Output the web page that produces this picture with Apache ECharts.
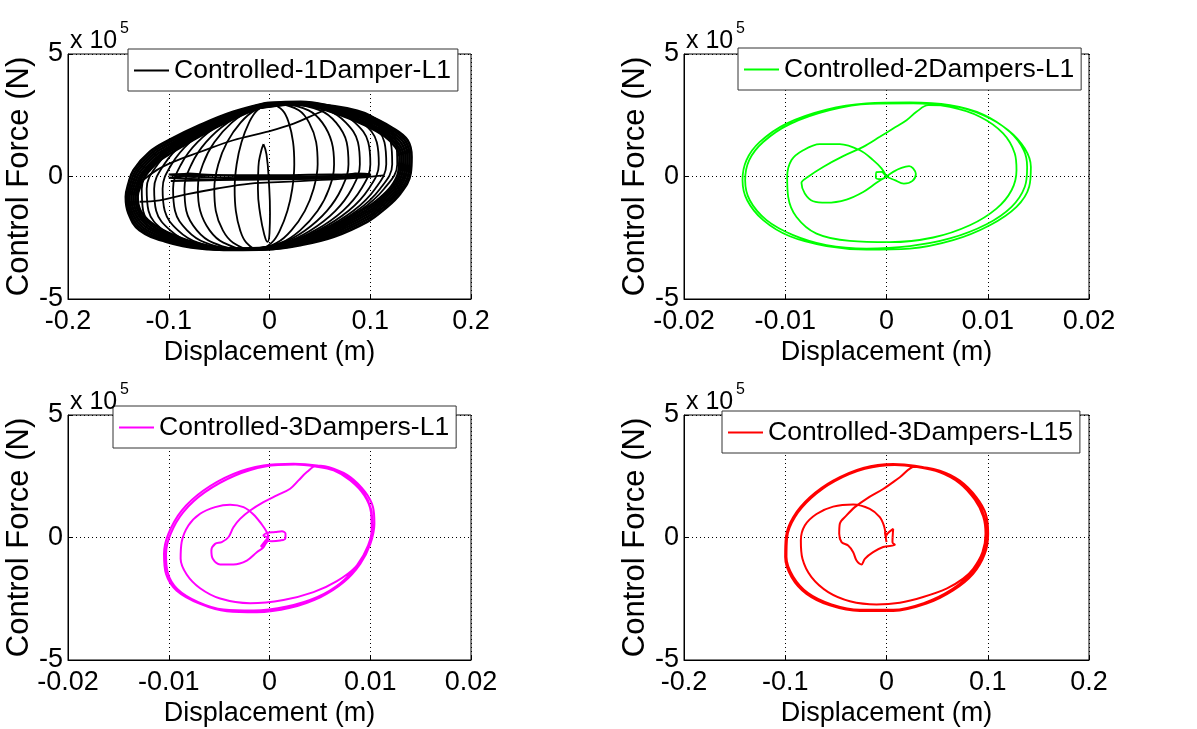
<!DOCTYPE html>
<html>
<head>
<meta charset="utf-8">
<script src="https://cdn.jsdelivr.net/npm/echarts@6/dist/echarts.min.js"></script>
<style>
  html, body { margin: 0; padding: 0; background: #fff; }
  #chart { width: 1197px; height: 729px; }
</style>
</head>
<body>
<div id="chart"></div>
<script>
// Control force (in units of 1e5 N) against displacement (m) for four damper layouts.

const seriesNames = [
  'Controlled-1Damper-L1',
  'Controlled-2Dampers-L1',
  'Controlled-3Dampers-L1',
  'Controlled-3Dampers-L15'
];

// Tick values and their labels
const xTicksWide = [-0.2, -0.1, 0, 0.1, 0.2];
const xLabelsWide = ['-0.2', '-0.1', '0', '0.1', '0.2'];
const xTicksNarrow = [-0.02, -0.01, 0, 0.01, 0.02];
const xLabelsNarrow = ['-0.02', '-0.01', '0', '0.01', '0.02'];
const yTicks = [-5, 0, 5];
const yLabels = ['-5', '0', '5'];

// One damper: narrow first cycle
const damper1Narrow = [[-0.006,1.32],[-0.003,0.9],[-0.0005,-0.3],[0.0005,-1.5],[0.0,-2.3],[-0.002,-2.67],[-0.005,-2.4],[-0.009,-1.6],[-0.0115,-0.5],[-0.011,0.4],[-0.0085,1.0],[-0.006,1.32]];

// One damper: growing cycles, displacement of the rising (right) and falling (left)
// branch at each force level
const loopLevels = [3, 2.7, 2.2, 1.4, 0.5, -0.5, -1.4, -2.2, -2.7, -3];
const damper1LoopRight = [
  [0.001,0.013,0.0191,0.0234,0.0246,0.0226,0.0178,0.0103,0.0022,-0.011],
  [0.0085,0.0291,0.0393,0.0463,0.0478,0.0438,0.0351,0.0217,0.0075,-0.0155],
  [0.0115,0.0388,0.0524,0.0618,0.0641,0.0591,0.0478,0.0304,0.0118,-0.0185],
  [0.018,0.0503,0.0661,0.0766,0.0784,0.0714,0.057,0.0353,0.0125,-0.024],
  [0.021,0.0578,0.0758,0.0878,0.0897,0.0817,0.0654,0.0406,0.0146,-0.027],
  [0.024,0.0649,0.0848,0.098,0.1001,0.0911,0.0728,0.0452,0.0163,-0.03],
  [0.027,0.0711,0.0924,0.1065,0.1085,0.0985,0.0785,0.0484,0.0171,-0.033],
  [0.03,0.0768,0.0994,0.1141,0.1159,0.1049,0.0833,0.051,0.0174,-0.036],
  [0.0335,0.0822,0.1055,0.1204,0.1218,0.1098,0.0868,0.0527,0.0174,-0.0385],
  [0.037,0.0872,0.1109,0.1258,0.1268,0.1138,0.0894,0.0537,0.017,-0.041]
];
const damper1LoopLeft = [
  [0.001,-0.0122,-0.0203,-0.0278,-0.0326,-0.0346,-0.0334,-0.0291,-0.023,-0.011],
  [0.0085,-0.0145,-0.0287,-0.0421,-0.0508,-0.0548,-0.0533,-0.0463,-0.0361,-0.0155],
  [0.0115,-0.0188,-0.0374,-0.0548,-0.0661,-0.0711,-0.0688,-0.0594,-0.0458,-0.0185],
  [0.018,-0.0185,-0.0413,-0.063,-0.0774,-0.0844,-0.0826,-0.0721,-0.0563,-0.024],
  [0.021,-0.0206,-0.0466,-0.0714,-0.0877,-0.0957,-0.0938,-0.0818,-0.0638,-0.027],
  [0.024,-0.0223,-0.0512,-0.0788,-0.0971,-0.1061,-0.104,-0.0908,-0.0709,-0.03],
  [0.027,-0.0231,-0.0544,-0.0845,-0.1045,-0.1145,-0.1125,-0.0984,-0.0771,-0.033],
  [0.03,-0.0234,-0.057,-0.0893,-0.1109,-0.1219,-0.1201,-0.1054,-0.0828,-0.036],
  [0.0335,-0.0224,-0.0577,-0.0918,-0.1148,-0.1268,-0.1254,-0.1105,-0.0872,-0.0385],
  [0.037,-0.0211,-0.0577,-0.0934,-0.1178,-0.1308,-0.1298,-0.1149,-0.0911,-0.041]
];

// One damper: steady-state cycles (dense outer band), innermost to outermost
const damper1Band = [
  [[-0.003,2.94],[0.031,2.92],[0.064,2.6],[0.097,2.05],[0.114,1.65],[0.125,1.2],[0.129,0.8],[0.128,0.2],[0.121,-0.4],[0.106,-1.0],[0.097,-1.25],[0.064,-2.0],[0.031,-2.55],[-0.003,-2.9],[-0.036,-2.94],[-0.069,-2.76],[-0.096,-2.38],[-0.117,-1.9],[-0.128,-1.4],[-0.131,-0.83],[-0.128,-0.38],[-0.123,0.05],[-0.11,0.62],[-0.1,0.9],[-0.069,1.65],[-0.036,2.35],[-0.003,2.94]],
  [[-0.003,2.95],[0.031,2.94],[0.064,2.64],[0.097,2.125],[0.1155,1.7],[0.127,1.25],[0.131,0.8],[0.13,0.19],[0.1225,-0.45],[0.107,-1.06],[0.097,-1.35],[0.064,-2.075],[0.031,-2.595],[-0.003,-2.92],[-0.036,-2.95],[-0.069,-2.79],[-0.097,-2.43],[-0.119,-1.95],[-0.13,-1.425],[-0.133,-0.83],[-0.13,-0.365],[-0.125,0.085],[-0.1115,0.685],[-0.1,1.0],[-0.069,1.725],[-0.036,2.4],[-0.003,2.95]],
  [[-0.003,2.96],[0.031,2.96],[0.064,2.68],[0.097,2.2],[0.117,1.75],[0.129,1.3],[0.133,0.8],[0.132,0.18],[0.124,-0.5],[0.108,-1.12],[0.097,-1.45],[0.064,-2.15],[0.031,-2.64],[-0.003,-2.94],[-0.036,-2.96],[-0.069,-2.82],[-0.098,-2.48],[-0.121,-2.0],[-0.132,-1.45],[-0.135,-0.83],[-0.132,-0.35],[-0.127,0.12],[-0.113,0.75],[-0.1,1.1],[-0.069,1.8],[-0.036,2.45],[-0.003,2.96]],
  [[-0.003,2.97],[0.031,2.98],[0.064,2.72],[0.097,2.28],[0.1185,1.8],[0.131,1.35],[0.135,0.8],[0.134,0.165],[0.1255,-0.55],[0.109,-1.185],[0.097,-1.55],[0.064,-2.225],[0.031,-2.68],[-0.003,-2.95],[-0.036,-2.97],[-0.069,-2.85],[-0.099,-2.53],[-0.123,-2.05],[-0.134,-1.475],[-0.137,-0.83],[-0.134,-0.335],[-0.129,0.16],[-0.1145,0.815],[-0.1,1.2],[-0.069,1.875],[-0.036,2.5],[-0.003,2.97]],
  [[-0.003,2.98],[0.031,3.0],[0.064,2.76],[0.097,2.36],[0.12,1.85],[0.133,1.4],[0.137,0.8],[0.136,0.15],[0.127,-0.6],[0.11,-1.25],[0.097,-1.65],[0.064,-2.3],[0.031,-2.72],[-0.003,-2.96],[-0.036,-2.98],[-0.069,-2.88],[-0.1,-2.58],[-0.125,-2.1],[-0.136,-1.5],[-0.139,-0.83],[-0.136,-0.32],[-0.131,0.2],[-0.116,0.88],[-0.1,1.3],[-0.069,1.95],[-0.036,2.55],[-0.003,2.98]],
  [[-0.003,2.99],[0.031,3.025],[0.064,2.8],[0.097,2.43],[0.1215,1.905],[0.135,1.44],[0.139,0.8],[0.138,0.135],[0.1285,-0.645],[0.1115,-1.31],[0.097,-1.75],[0.064,-2.38],[0.031,-2.76],[-0.003,-2.97],[-0.036,-2.99],[-0.069,-2.91],[-0.101,-2.625],[-0.127,-2.145],[-0.138,-1.5],[-0.1408,-0.83],[-0.138,-0.305],[-0.133,0.23],[-0.1175,0.94],[-0.1,1.39],[-0.069,2.025],[-0.036,2.595],[-0.003,2.99]],
  [[-0.003,3.0],[0.031,3.05],[0.064,2.84],[0.097,2.5],[0.123,1.96],[0.137,1.48],[0.141,0.8],[0.14,0.12],[0.13,-0.69],[0.113,-1.37],[0.097,-1.85],[0.064,-2.46],[0.031,-2.8],[-0.003,-2.98],[-0.036,-3.0],[-0.069,-2.94],[-0.102,-2.67],[-0.129,-2.19],[-0.14,-1.5],[-0.1426,-0.83],[-0.14,-0.29],[-0.135,0.26],[-0.119,1.0],[-0.1,1.48],[-0.069,2.1],[-0.036,2.64],[-0.003,3.0]]
];

// One damper: near-zero force sweeps and transition branches
const damper1Flat = [
  [[-0.1,0.08],[-0.08,0.1],[-0.05,0.05],[0,-0.02],[0.05,0.0],[0.08,0.08],[0.1,0.1],[0.09,0.02],[0.05,-0.08],[0,-0.1],[-0.05,-0.05],[-0.085,0.02],[-0.1,0.08]],
  [[-0.1,-0.05],[-0.06,0.05],[0,0.05],[0.06,0.08],[0.1,0.05],[0.07,-0.02],[0,-0.1],[-0.06,-0.12],[-0.1,-0.05]],
  [[-0.098,-0.18],[-0.06,-0.15],[-0.02,-0.12],[0.02,-0.1],[0.06,-0.05],[0.1,0.05]],
  [[-0.09,0.05],[-0.08,0.12],[-0.07,0.08],[-0.075,-0.02],[-0.09,0.05]],
  [[0.075,0.02],[0.085,0.12],[0.1,0.08],[0.095,0.0],[0.075,0.02]],
  [[-0.035,-0.04],[0.0,-0.03],[0.03,-0.01],[0.06,0.01]]
];
const damper1Transition = [
  [[-0.13,-0.3],[-0.112,0.26],[-0.0955,0.6],[-0.069,1.0],[-0.036,1.48],[-0.003,1.82],[0.024,2.16],[0.047,2.57],[0.064,2.87]],
  [[-0.129,-1.03],[-0.109,-0.97],[-0.086,-0.76],[-0.052,-0.49],[-0.019,-0.29],[0.014,-0.22],[0.047,-0.15],[0.08,-0.08],[0.113,0.05]]
];

// Two dampers, L1
const damper2Path = [
  [0,0],[0.00066,0.19],[0.00148,0.35],[0.00224,0.42],[0.00263,0.33],[0.0029,0.10],[0.00257,-0.18],[0.00171,-0.29],[0.00082,-0.15],[0,0],
  [-0.00049,0.19],[-0.00099,0.18],[-0.00105,-0.05],[-0.00049,-0.11],[0,0],
  [-0.00099,-0.26],[-0.0023,-0.63],[-0.00395,-0.94],[-0.00593,-1.07],[-0.00724,-1.01],[-0.00807,-0.69],[-0.0084,-0.26],
  [-0.00774,-0.01],[-0.00626,0.39],[-0.00428,0.83],[-0.0023,1.21],[-0.00066,1.62],[0.00066,1.96],[0.00198,2.30],[0.00296,2.64],[0.00412,2.91],
  [0.00658,2.87],[0.00955,2.50],[0.01202,1.89],[0.01366,1.14],[0.01426,0.39],[0.01409,-0.42],[0.01284,-1.24],[0.01021,-1.99],[0.00658,-2.60],[0.0023,-2.94],[-0.00198,-2.98],[-0.00593,-2.84],[-0.00955,-2.44],[-0.01218,-1.78],[-0.01376,-0.97],[-0.01422,-0.15],[-0.01383,0.67],[-0.01251,1.41],[-0.00988,2.16],[-0.00593,2.73],[-0.00198,2.98],[0.0023,3.02],
  [0.00626,2.91],[0.00955,2.53],[0.01218,1.82],[0.01356,1.07],[0.01389,0.39],[0.01366,-0.42],[0.01235,-1.24],[0.00988,-1.95],[0.00626,-2.53],[0.0023,-2.84],[-0.00198,-2.94],[-0.00593,-2.80],[-0.00922,-2.39],[-0.01185,-1.78],[-0.0135,-0.97],[-0.01396,-0.15],[-0.01356,0.67],[-0.01218,1.41],[-0.00955,2.14],[-0.0056,2.71],[-0.00165,2.97],[0.00263,2.99],
  [0.00626,2.84],[0.00922,2.44],[0.01152,1.76],[0.01267,0.94],[0.01284,0.26],[0.01235,-0.56],[0.01086,-1.31],[0.00823,-1.99],[0.00461,-2.49],[0.00033,-2.68],[-0.00362,-2.63],[-0.00691,-2.33],[-0.00889,-1.65],[-0.00971,-0.83],[-0.00981,-0.01],[-0.00938,0.67],[-0.00823,1.07],[-0.00658,1.32],[-0.00461,1.32],[-0.00263,1.07],[-0.00132,0.67],[-0.00049,0.33],[0,0]
];

// Three dampers, L1
const damper3Path = [
  [-0.0001,0.01],[-0.0006,0.08],[-0.00027,0.18],[0.00056,0.22],[0.00123,0.26],[0.00159,0.15],[0.00156,-0.05],[0.00106,-0.12],[0.00023,-0.15],[-0.00027,-0.10],[-0.0001,0.01],
  [-0.00027,-0.19],[-0.0006,-0.33],[-0.00086,-0.37],[-0.0006,-0.23],[-0.0001,0.01],
  [-0.0006,-0.40],[-0.00126,-0.60],[-0.00225,-0.94],[-0.00358,-1.10],[-0.0049,-1.10],[-0.00563,-0.87],[-0.00577,-0.53],[-0.0054,-0.26],[-0.00474,-0.19],[-0.00408,0.01],[-0.00358,0.42],[-0.00292,0.76],[-0.00192,1.10],[-0.0006,1.44],[0.00073,1.72],[0.00205,1.99],[0.00288,2.33],[0.00371,2.67],[0.00471,2.94],
  [0.00636,2.81],[0.00802,2.47],[0.00951,1.85],[0.01027,1.24],[0.01041,0.56],[0.01001,-0.26],[0.00901,-1.08],[0.00736,-1.83],[0.00504,-2.44],[0.00205,-2.87],[-0.00126,-3.05],[-0.00424,-3.01],[-0.00689,-2.71],[-0.00921,-2.17],[-0.01027,-1.49],[-0.01047,-0.67],[-0.01004,0.15],[-0.00872,1.10],[-0.00656,1.92],[-0.00358,2.60],[-0.0006,2.94],[0.00239,3.01],[0.00471,2.94],
  [0.00636,2.77],[0.00795,2.40],[0.00935,1.81],[0.01007,1.17],[0.01021,0.49],[0.00978,-0.33],[0.00868,-1.14],[0.00703,-1.87],[0.00471,-2.44],[0.00172,-2.82],[-0.00159,-2.98],[-0.00457,-2.94],[-0.00706,-2.64],[-0.00915,-2.10],[-0.01011,-1.42],[-0.01027,-0.67],[-0.00981,0.15],[-0.00855,1.04],[-0.0064,1.85],[-0.00341,2.53],[-0.00043,2.90],[0.00255,2.98],[0.00454,2.90],
  [0.00636,2.74],[0.00802,2.33],[0.00941,1.72],[0.01007,1.04],[0.01014,0.35],[0.00968,-0.46],[0.00852,-1.21],[0.00669,-1.78],[0.00437,-2.23],[0.00139,-2.55],[-0.00192,-2.68],[-0.0049,-2.49],[-0.00689,-2.07],[-0.00822,-1.51],[-0.00882,-0.87],[-0.00872,-0.19],[-0.00805,0.49],[-0.00689,0.97],[-0.0054,1.24],[-0.00391,1.34],[-0.00258,1.24],[-0.00159,0.94],[-0.00076,0.53],[-0.00027,0.22],[-0.0001,0.01]
];

// Three dampers, L15
const damper3L15Path = [
  [0,0],[-0.0016,0.22],[0,-0.19],[-0.0007,0.01],[0.0066,0.35],[0.0059,-0.19],[0.0082,-0.30],
  [-0.0033,-0.39],[-0.0132,-0.60],[-0.0214,-0.87],[-0.0247,-1.10],[-0.0296,-0.94],[-0.0329,-0.60],[-0.0379,-0.33],[-0.0444,-0.19],[-0.0467,0.15],[-0.0461,0.56],[-0.0395,0.90],[-0.0313,1.24],[-0.0198,1.58],[-0.0033,1.98],[0.0132,2.46],[0.028,2.89],
  [0.0527,2.73],[0.0724,2.32],[0.0889,1.64],[0.0981,0.96],[0.1004,0.15],[0.0971,-0.67],[0.0856,-1.48],[0.0658,-2.16],[0.0395,-2.70],[0.0066,-3.00],[-0.0263,-3.00],[-0.056,-2.77],[-0.079,-2.30],[-0.0938,-1.62],[-0.1001,-0.80],[-0.0994,0.01],[-0.0922,0.83],[-0.0757,1.64],[-0.0527,2.32],[-0.023,2.84],[0.0066,3.00],[0.028,2.93],
  [0.0527,2.69],[0.0731,2.26],[0.0882,1.58],[0.0964,0.90],[0.0988,0.15],[0.0955,-0.67],[0.0839,-1.45],[0.0642,-2.13],[0.0379,-2.66],[0.0066,-2.95],[-0.0263,-2.95],[-0.0543,-2.73],[-0.0774,-2.27],[-0.0922,-1.59],[-0.0988,-0.80],[-0.0981,0.01],[-0.0905,0.83],[-0.0741,1.62],[-0.051,2.30],[-0.0214,2.80],[0.0082,2.96],[0.028,2.89],
  [0.0527,2.66],[0.0724,2.21],[0.0872,1.54],[0.0955,0.86],[0.0978,0.15],[0.0948,-0.60],[0.0856,-1.28],[0.0757,-1.68],[0.0593,-2.09],[0.0362,-2.43],[0.0132,-2.66],[-0.0099,-2.73],[-0.0362,-2.60],[-0.0576,-2.23],[-0.0741,-1.62],[-0.083,-0.87],[-0.0846,-0.12],[-0.0807,0.49],[-0.0691,0.96],[-0.0527,1.26],[-0.0329,1.35],[-0.0165,1.17],[-0.0066,0.83],[-0.0023,0.45],[-0.0007,0.08]
];

// ---------------------------------------------------------------------------
const FONT = '"Liberation Sans", Arial, Helvetica, sans-serif';
const panels = [
  { left: 68,  top: 54,  width: 403, height: 245, legendLeft: 128, legendTop: 49, color: '#000000', xt: xTicksWide,   xl: xLabelsWide },
  { left: 684, top: 54,  width: 405, height: 245, legendLeft: 738, legendTop: 48, color: '#00ff00', xt: xTicksNarrow, xl: xLabelsNarrow },
  { left: 68,  top: 415, width: 403, height: 245, legendLeft: 113, legendTop: 406, color: '#ff00ff', xt: xTicksNarrow, xl: xLabelsNarrow },
  { left: 684, top: 415, width: 405, height: 245, legendLeft: 722, legendTop: 411, color: '#ff0000', xt: xTicksWide,   xl: xLabelsWide }
];

function labelFor(ticks, labels) {
  return function (v) {
    let best = 0;
    for (let i = 1; i < ticks.length; i++) {
      if (Math.abs(ticks[i] - v) < Math.abs(ticks[best] - v)) best = i;
    }
    return labels[best];
  };
}

// Closed loop from the right/left branch tables
function loopFromBranches(right, left) {
  const pts = [];
  for (let j = 0; j < loopLevels.length; j++) pts.push([right[j], loopLevels[j]]);
  for (let j = loopLevels.length - 2; j >= 0; j--) pts.push([left[j], loopLevels[j]]);
  return pts;
}

const dotted = { color: '#000', width: 1, type: [1, 3] };

const grids = [], xAxes = [], yAxes = [], legends = [], graphics = [];
panels.forEach((p, i) => {
  grids.push({ left: p.left, top: p.top, width: p.width, height: p.height,
    show: true, borderColor: '#000', borderWidth: 1, backgroundColor: '#fff', containLabel: false });
  const step = Math.round((p.xt[1] - p.xt[0]) * 1e6) / 1e6;
  xAxes.push({
    type: 'value', gridIndex: i, min: p.xt[0], max: p.xt[p.xt.length - 1], interval: step,
    name: 'Displacement (m)', nameLocation: 'middle', nameGap: 40,
    nameTextStyle: { fontFamily: FONT, fontSize: 27, color: '#000' },
    axisLine: { show: true, onZero: false, lineStyle: { color: '#000', width: 1 } },
    axisTick: { show: true, inside: true, length: 4, lineStyle: { color: '#000' } },
    axisLabel: { fontFamily: FONT, fontSize: 27, color: '#000', margin: 9, formatter: labelFor(p.xt, p.xl), showMinLabel: true, showMaxLabel: true },
    splitLine: { show: true, lineStyle: dotted }
  });
  yAxes.push({
    type: 'value', gridIndex: i, min: yTicks[0], max: yTicks[yTicks.length - 1], interval: yTicks[1] - yTicks[0],
    name: 'Control Force (N)', nameLocation: 'middle', nameGap: 31, nameRotate: 90,
    nameTextStyle: { fontFamily: FONT, fontSize: 31, color: '#000' },
    axisLine: { show: true, onZero: false, lineStyle: { color: '#000', width: 1 } },
    axisTick: { show: true, inside: true, length: 4, lineStyle: { color: '#000' } },
    axisLabel: { fontFamily: FONT, fontSize: 27, color: '#000', margin: 5, formatter: labelFor(yTicks, yLabels), showMinLabel: true, showMaxLabel: true },
    splitLine: { show: true, lineStyle: dotted }
  });
  legends.push({
    data: [seriesNames[i]], left: p.legendLeft, top: p.legendTop, orient: 'horizontal',
    icon: 'rect', itemWidth: 35, itemHeight: 2, itemGap: 0,
    backgroundColor: '#fff', borderColor: '#333', borderWidth: 1, borderRadius: 0,
    padding: [8, 7, 7, 6],
    selectedMode: false, z: 10,
    itemStyle: { color: p.color },
    textStyle: { fontFamily: FONT, fontSize: 26.5, color: '#000' }
  });
  graphics.push(
    { type: 'text', left: p.left + 2, top: p.top - 25, z: 20,
      style: { text: 'x 10', font: '25px ' + FONT, fill: '#000' } },
    { type: 'text', left: p.left + 52, top: p.top - 33, z: 20,
      style: { text: '5', font: '16px ' + FONT, fill: '#000' } }
  );
});

function traceSeries(panelIndex, data, width, smooth) {
  return {
    type: 'line', name: seriesNames[panelIndex], xAxisIndex: panelIndex, yAxisIndex: panelIndex,
    data: data, symbol: 'none', showSymbol: false, smooth: smooth, clip: true,
    lineStyle: { color: panels[panelIndex].color, width: width },
    itemStyle: { color: panels[panelIndex].color },
    emphasis: { disabled: true }, z: 3
  };
}

const series = [];
damper1Band.forEach(loop => series.push(traceSeries(0, loop, 2.6, 0.4)));
damper1LoopRight.forEach((r, i) => series.push(traceSeries(0, loopFromBranches(r, damper1LoopLeft[i]), 1.8, 0.4)));
series.push(traceSeries(0, damper1Narrow, 1.8, 0.5));
damper1Flat.forEach(loop => series.push(traceSeries(0, loop, 2, 0.4)));
damper1Transition.forEach(loop => series.push(traceSeries(0, loop, 1.8, 0.4)));
series.push(traceSeries(1, damper2Path, 1.8, 0.35));
series.push(traceSeries(2, damper3Path, 2, 0.35));
series.push(traceSeries(3, damper3L15Path, 2, 0.35));

const chart = echarts.init(document.getElementById('chart'), null, { renderer: 'canvas' });
chart.setOption({
  backgroundColor: '#fff',
  animation: false,
  grid: grids,
  xAxis: xAxes,
  yAxis: yAxes,
  legend: legends,
  graphic: graphics,
  series: series
});
</script>
</body>
</html>
